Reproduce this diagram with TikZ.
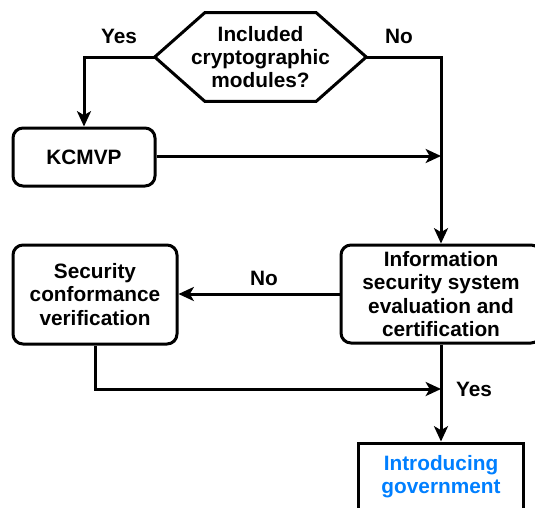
\documentclass[tikz,border=0pt]{standalone}
\usepackage{fontspec}
\setmainfont{Liberation Sans}
\usetikzlibrary{arrows.meta}
\definecolor{introblue}{RGB}{0,127,255}
\begin{document}
\begin{tikzpicture}[x=0.75pt,y=-0.75pt,
  every node/.style={font=\fontsize{15.6}{17.4}\selectfont\bfseries, align=center, inner sep=0pt},
  line/.style={line width=2.25pt},
  arr/.style={line width=2.25pt, -{Stealth[length=11.5pt,width=10.5pt,inset=3pt]}},
  roundbox/.style={draw, line width=2.25pt, rounded corners=7.5pt},
  plainbox/.style={draw, line width=2.25pt},
  lbl/.style={}
]
\useasboundingbox (0,0) rectangle (535,507);
\clip (0,0) rectangle (535,507);

% decision hexagon
\node[minimum width=158.25pt, minimum height=66pt] (q) at (260.5,57) {Included\\cryptographic\\modules?};
\draw[line, line join=miter] (q.west) -- ([xshift=37.5pt]q.north west) -- ([xshift=-37.5pt]q.north east)
  -- (q.east) -- ([xshift=-37.5pt]q.south east) -- ([xshift=37.5pt]q.south west) -- cycle;

\node[roundbox, minimum width=106.5pt, minimum height=43.5pt] (kc) at (84,157) {KCMVP};
\node[roundbox, minimum width=150pt, minimum height=73.5pt] (info) at (441,294) {Information\\security system\\evaluation and\\certification};
\node[roundbox, minimum width=123pt, minimum height=74.25pt] (sec) at (95,294.5) {Security\\conformance\\verification};
\node[plainbox, minimum width=123.75pt, minimum height=50.25pt, text=introblue] (intro) at (441,476.5) {Introducing\\government};

\coordinate (j1) at (441,156);
\coordinate (j2) at (441,389);

% connectors
\draw[arr] (q.west) -| (kc.north);
\draw[arr] (q.east) -| (info.north);
\draw[arr] (kc.east |- j1) -- (j1);
\draw[arr] (info.west) -- (info.west -| sec.east);
\draw[arr] (sec.south) |- (j2);
\draw[arr] (info.south) -- (intro.north);

% labels
\node[lbl] (yes1) at (119,36) {Yes};
\node[lbl] (no1) at (399,36) {No};
\node[lbl] (no2) at (264,278) {No};
\node[lbl] (yes2) at (474,389) {Yes};
\end{tikzpicture}
\end{document}
